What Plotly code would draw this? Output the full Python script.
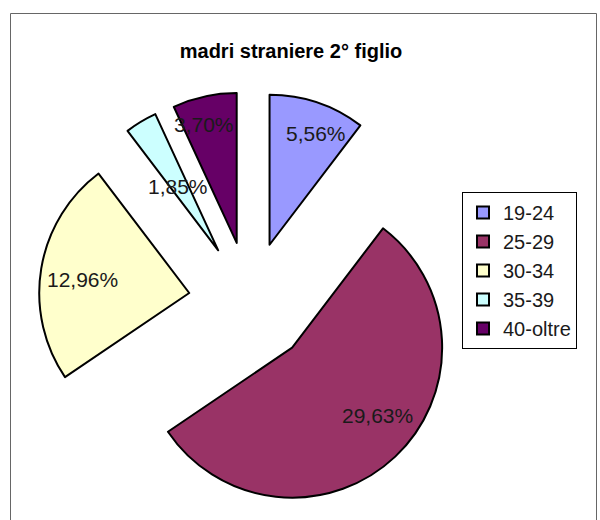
import math
import plotly.graph_objects as go

# fasce di eta' delle madri straniere (2° figlio)
fasce = ["19-24", "25-29", "30-34", "35-39", "40-oltre"]
percentuali = [5.56, 29.63, 12.96, 1.85, 3.70]
etichette = ["5,56%", "29,63%", "12,96%", "1,85%", "3,70%"]
colori = ["#9999FF", "#993366", "#FFFFCC", "#CCFFFF", "#660066"]

# label placement inside each slice (radius fraction, angle shift in degrees)
label_r = [0.80, 0.73, 0.72, 0.50, 0.82]
label_shift = [4, -8, -2, -1, -3]

W, H = 600, 520
pull = 0.41
dom_x = [0.064, 0.769]
dom_y = [0.0106, 0.824]

fig = go.Figure()
fig.add_trace(
    go.Pie(
        labels=fasce,
        values=percentuali,
        sort=False,
        direction="clockwise",
        rotation=0,
        pull=pull,
        textinfo="none",
        marker=dict(colors=colori, line=dict(color="black", width=2)),
        domain=dict(x=dom_x, y=dom_y),
        hoverinfo="label+percent",
    )
)

# same geometry plotly uses for the pie, to put the value labels in the slices
cx = W * (dom_x[0] + dom_x[1]) / 2
cy = H * (1 - dom_y[0]) - H * (dom_y[1] - dom_y[0]) / 2
r = min(W * (dom_x[1] - dom_x[0]), H * (dom_y[1] - dom_y[0])) / 2 / (1 + pull)
tot = sum(percentuali)
start = 0.0
for v, txt, fr, sh in zip(percentuali, etichette, label_r, label_shift):
    span = 360 * v / tot
    mid = math.radians(start + span / 2)
    ax = cx + pull * r * math.sin(mid)
    ay = cy - pull * r * math.cos(mid)
    a = math.radians(start + span / 2 + sh)
    px = ax + fr * r * math.sin(a)
    py = ay - fr * r * math.cos(a)
    fig.add_annotation(
        x=px / W, y=1 - py / H, xref="paper", yref="paper",
        text=txt, showarrow=False, xanchor="center", yanchor="middle",
        font=dict(size=21, color="#1a1a1a"),
    )
    start += span

# outer frame of the chart
fig.add_shape(
    type="rect", xref="paper", yref="paper",
    x0=10.5 / W, x1=596.5 / W, y0=-0.05, y1=1 - 13.5 / H,
    line=dict(color="#666666", width=1), fillcolor="rgba(0,0,0,0)",
)

fig.update_layout(
    width=W,
    height=H,
    margin=dict(l=0, r=0, t=0, b=0),
    paper_bgcolor="white",
    font=dict(family="Liberation Sans, Arial, sans-serif", color="black"),
    title=dict(
        text="<b>madri straniere 2° figlio</b>",
        x=291 / W, xanchor="center",
        y=1 - 51 / H, yanchor="middle",
        font=dict(size=20, color="black"),
    ),
    legend=dict(
        x=462 / W, xanchor="left",
        y=1 - 192 / H, yanchor="top",
        bordercolor="black", borderwidth=1,
        bgcolor="white",
        font=dict(size=20, color="#1a1a1a"),
    ),
)

# browser default body margin would shift the figure by 8px
fig.write_html(
    "out.html",
    config={"displayModeBar": False},
    post_script="document.body.style.margin='0';",
)
